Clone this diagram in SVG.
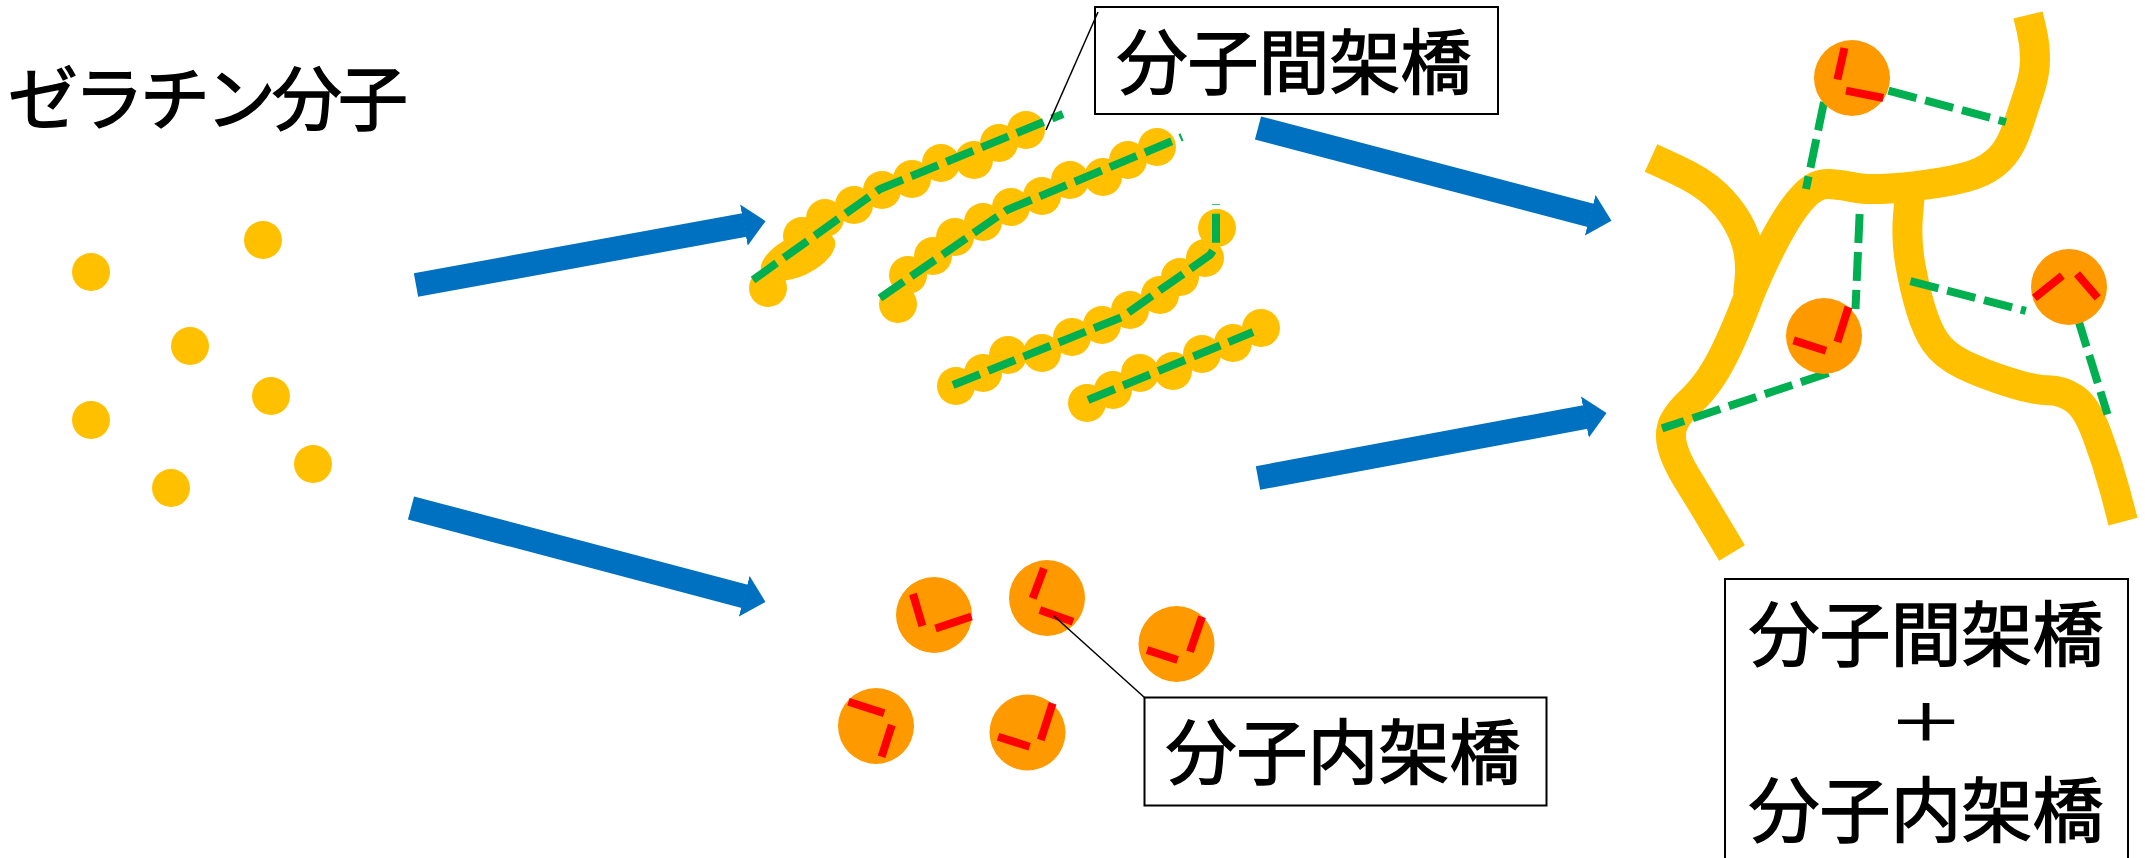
<svg xmlns="http://www.w3.org/2000/svg" width="2145" height="858" viewBox="0 0 2145 858">
  <style>
    .lbl { font-family: "Noto Sans CJK JP", "Noto Sans", sans-serif; font-size: 71px; fill: #000; stroke: #000; stroke-width: 1.4px; }
    .plus { font-size: 47px; stroke-width: 1px; }
    .mono { fill: #FFC000; }
    .xlink { fill: none; stroke: #00B050; stroke-width: 8; stroke-dasharray: 29 9; }
    .intra { fill: #FF9900; }
    .bar { stroke: #FF0000; stroke-width: 8; }
    .strand { fill: none; stroke: #FFC000; stroke-width: 30; stroke-linejoin: round; }
    .flow { stroke: #0070C0; stroke-width: 24; marker-end: url(#head); }
    .box { fill: #fff; stroke: #000; stroke-width: 2; }
    .leader { stroke: #000; stroke-width: 1.5; fill: none; }
  </style>
  <defs>
    <marker id="head" markerUnits="userSpaceOnUse" viewBox="0 0 22 42" markerWidth="22" markerHeight="42" refX="0.5" refY="21" orient="auto">
      <path d="M0,0 L22,21 L0,42 Z" fill="#0070C0"/>
    </marker>
  </defs>
  <rect width="2145" height="858" fill="#fff"/>

  <!-- gelatin monomers -->
  <g id="node-monomers">
    <text class="lbl" x="8" y="125" textLength="400" lengthAdjust="spacing" style="font-size:70px">ゼラチン分子</text>
    <circle class="mono" cx="91" cy="272" r="19"/>
    <circle class="mono" cx="263" cy="240" r="19"/>
    <circle class="mono" cx="190" cy="346" r="19"/>
    <circle class="mono" cx="271" cy="396" r="19"/>
    <circle class="mono" cx="91" cy="420" r="19"/>
    <circle class="mono" cx="313" cy="464" r="19"/>
    <circle class="mono" cx="171" cy="488" r="19"/>
  </g>

  <!-- crosslinked chains (intermolecular) -->
  <g id="node-chains">
    <g id="chain-1">
      <circle class="mono" cx="768" cy="288" r="19"/>
      <ellipse class="mono" cx="798" cy="256" rx="40" ry="20" transform="rotate(-25 798 256)"/>
      <circle class="mono" cx="802" cy="236" r="19"/>
      <circle class="mono" cx="825" cy="218" r="19"/>
      <circle class="mono" cx="854" cy="205" r="19"/>
      <circle class="mono" cx="882" cy="190" r="19"/>
      <circle class="mono" cx="912" cy="179" r="19"/>
      <circle class="mono" cx="941" cy="163" r="19"/>
      <circle class="mono" cx="974" cy="160" r="19"/>
      <circle class="mono" cx="999" cy="143" r="19"/>
      <circle class="mono" cx="1026" cy="130" r="19"/>
      <path class="xlink" d="M753,280 L880,189 L1063,114"/>
    </g>
    <g id="chain-2">
      <circle class="mono" cx="898" cy="304" r="19"/>
      <circle class="mono" cx="908" cy="275" r="19"/>
      <circle class="mono" cx="933" cy="256" r="19"/>
      <circle class="mono" cx="955" cy="237" r="19"/>
      <circle class="mono" cx="983" cy="222" r="19"/>
      <circle class="mono" cx="1011" cy="207" r="19"/>
      <circle class="mono" cx="1042" cy="196" r="19"/>
      <circle class="mono" cx="1070" cy="180" r="19"/>
      <circle class="mono" cx="1103" cy="177" r="19"/>
      <circle class="mono" cx="1128" cy="160" r="19"/>
      <circle class="mono" cx="1157" cy="147" r="19"/>
      <path class="xlink" d="M880,298 L1007,210 L1182,137"/>
    </g>
    <g id="chain-3">
      <circle class="mono" cx="956" cy="386" r="19"/>
      <circle class="mono" cx="983" cy="373" r="19"/>
      <circle class="mono" cx="1008" cy="355" r="19"/>
      <circle class="mono" cx="1042" cy="353" r="19"/>
      <circle class="mono" cx="1072" cy="337" r="19"/>
      <circle class="mono" cx="1102" cy="325" r="19"/>
      <circle class="mono" cx="1130" cy="310" r="19"/>
      <circle class="mono" cx="1160" cy="295" r="19"/>
      <circle class="mono" cx="1180" cy="277" r="19"/>
      <circle class="mono" cx="1205" cy="258" r="19"/>
      <circle class="mono" cx="1217" cy="228" r="19"/>
      <path class="xlink" d="M953,385 L1122,317 L1210,255 L1216,246 L1216,204"/>
    </g>
    <g id="chain-4">
      <circle class="mono" cx="1087" cy="403" r="19"/>
      <circle class="mono" cx="1113" cy="390" r="19"/>
      <circle class="mono" cx="1140" cy="373" r="19"/>
      <circle class="mono" cx="1173" cy="371" r="19"/>
      <circle class="mono" cx="1202" cy="354" r="19"/>
      <circle class="mono" cx="1233" cy="343" r="19"/>
      <circle class="mono" cx="1261" cy="328" r="19"/>
      <path class="xlink" d="M1088,400 L1253,332"/>
    </g>
  </g>

  <!-- globules with intramolecular crosslinks -->
  <g id="node-globules">
    <circle class="intra" cx="934" cy="615" r="38"/>
    <line class="bar" x1="913" y1="594" x2="922.4" y2="626"/>
    <line class="bar" x1="935.5" y1="628.5" x2="971.5" y2="616.5"/>
    <circle class="intra" cx="1047" cy="598" r="38"/>
    <line class="bar" x1="1043.9" y1="568.3" x2="1032.7" y2="598.3"/>
    <line class="bar" x1="1039.8" y1="610" x2="1073" y2="621.7"/>
    <circle class="intra" cx="1176.5" cy="644" r="38"/>
    <line class="bar" x1="1202" y1="616.7" x2="1190" y2="651.7"/>
    <line class="bar" x1="1147" y1="650" x2="1177.6" y2="660"/>
    <circle class="intra" cx="876" cy="726" r="38"/>
    <line class="bar" x1="848.5" y1="701.7" x2="884.2" y2="713.3"/>
    <line class="bar" x1="891.8" y1="725" x2="881.6" y2="756.7"/>
    <circle class="intra" cx="1027.5" cy="732.5" r="38"/>
    <line class="bar" x1="1052.6" y1="703.3" x2="1040.8" y2="740"/>
    <line class="bar" x1="998" y1="736.7" x2="1029.6" y2="746.7"/>
  </g>

  <!-- gel network with both crosslink types -->
  <g id="node-network">
    <path class="strand" d="M1732,553 L1716.5,527 Q1701,501 1688,480 Q1675,459 1672,445 Q1669,431 1674.5,421 Q1680,411 1690.5,401.5 Q1701,392 1710.5,378 Q1720,364 1729.5,343 Q1739,322 1746,303.5 Q1753,285 1763.5,262.5 Q1774,240 1784.5,222.5 Q1795,205 1806,194 Q1817,183 1830,184 Q1843,185 1854.5,187.5 Q1866,190 1889.5,188.5 Q1913,187 1940.5,182.5 Q1968,178 1981.5,171.5 Q1995,165 2003.5,154.5 Q2012,144 2018,125.5 Q2024,107 2029.5,90.5 Q2035,74 2035,59 Q2035,44 2031.5,29.5 L2028,15"/>
    <path class="strand" d="M1651,158 L1676,169.5 Q1701,181 1715,194 Q1729,207 1737.5,222 Q1746,237 1748.5,251.5 Q1751,266 1749.5,280.5 L1748,295"/>
    <path class="strand" d="M1910,192 L1908,216 Q1906,240 1910.3,264.3 Q1914.6,288.6 1920.7,309 Q1926.7,329.3 1935.4,342.2 Q1944,355 1963,364.4 Q1982,373.7 2008.3,382 Q2034.5,390.3 2048.3,390.3 Q2062,390.3 2074.3,398.7 Q2086.6,407 2097,434.7 Q2107.5,462.4 2115.3,492 L2123,521.6"/>
    <line class="xlink" x1="1824" y1="102" x2="1806" y2="189"/>
    <line class="xlink" x1="1888.5" y1="90.6" x2="2006" y2="122"/>
    <line class="xlink" x1="1859.6" y1="214" x2="1855.5" y2="309"/>
    <line class="xlink" x1="1828.4" y1="373" x2="1662" y2="428.4"/>
    <line class="xlink" x1="1910.4" y1="281.2" x2="2025.8" y2="310.8"/>
    <line class="xlink" x1="2078" y1="319" x2="2107.5" y2="414.4"/>
    <circle class="intra" cx="1852" cy="78" r="38"/>
    <line class="bar" x1="1844.4" y1="48" x2="1837.4" y2="79.5"/>
    <line class="bar" x1="1846" y1="90.6" x2="1883.3" y2="98"/>
    <circle class="intra" cx="1824" cy="336" r="38"/>
    <line class="bar" x1="1848.5" y1="307" x2="1837.4" y2="342"/>
    <line class="bar" x1="1793.6" y1="340.4" x2="1826" y2="350.7"/>
    <circle class="intra" cx="2069" cy="287" r="38"/>
    <line class="bar" x1="2062.3" y1="275.6" x2="2034.5" y2="297.8"/>
    <line class="bar" x1="2077" y1="273.8" x2="2097.7" y2="297.8"/>
  </g>

  <!-- labels -->
  <g id="node-label-inter">
    <rect class="box" x="1095" y="7" width="403" height="107"/>
    <text class="lbl" x="1294" y="88" text-anchor="middle">分子間架橋</text>
  </g>
  <g id="node-label-intra">
    <rect class="box" x="1144.5" y="697.5" width="402" height="108"/>
    <text class="lbl" x="1343" y="778" text-anchor="middle">分子内架橋</text>
  </g>
  <g id="node-label-both">
    <rect class="box" x="1725" y="579" width="403" height="300"/>
    <text class="lbl" x="1926" y="660" text-anchor="middle">分子間架橋</text>
    <!-- wide, short plus sign between the two lines -->
    <text class="lbl plus" x="0" y="0" text-anchor="middle" transform="translate(1926,740) scale(1.6,1.05)">＋</text>
    <text class="lbl" x="1926" y="836" text-anchor="middle">分子内架橋</text>
  </g>

  <!-- connectors: process arrows and label leaders -->
  <g id="connectors">
    <line class="flow" x1="416" y1="285" x2="744.4" y2="225"/>
    <line class="flow" x1="411" y1="508" x2="744.7" y2="596.4"/>
    <line class="flow" x1="1258" y1="128" x2="1590.7" y2="215.4"/>
    <line class="flow" x1="1258" y1="478" x2="1585.4" y2="417"/>
    <line class="leader" x1="1046" y1="130" x2="1098" y2="12"/>
    <line class="leader" x1="1054" y1="616" x2="1144.5" y2="697.5"/>
  </g>
</svg>
